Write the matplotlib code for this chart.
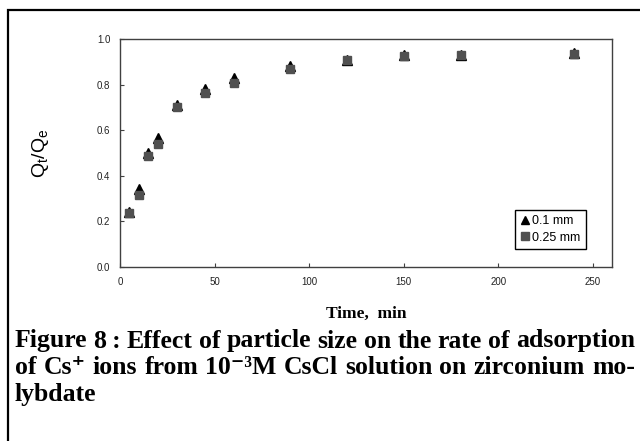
import numpy as np
import matplotlib.pyplot as plt
from matplotlib.patches import Rectangle

# data
time = [5, 10, 15, 20, 30, 45, 60, 90, 120, 150, 180, 240]
q_01 = [0.24, 0.34, 0.50, 0.565, 0.71, 0.78, 0.83, 0.88, 0.91, 0.93, 0.93, 0.94]
q_025 = [0.238, 0.316, 0.487, 0.538, 0.703, 0.765, 0.806, 0.867, 0.906, 0.925, 0.93, 0.935]
labels = ['0.1 mm', '0.25 mm']
xticks = [0, 50, 100, 150, 200, 250]
yticks = [0.0, 0.2, 0.4, 0.6, 0.8, 1.0]

caption = [
    ['Figure', '8\u2009:', 'Effect', 'of', 'particle', 'size', 'on', 'the', 'rate', 'of', 'adsorption'],
    ['of', 'Cs\u207a', 'ions', 'from', '10\u207b\u00b3M', 'CsCl', 'solution', 'on', 'zirconium', 'mo-'],
    ['lybdate'],
]

fig = plt.figure(figsize=(6.4, 4.41), dpi=100)
ax = fig.add_axes([120/640, 1-267/441, (612-120)/640, (267-39)/441])

ax.plot(time, q_01, ls='none', marker='^', ms=7, color='black', mec='black', label=labels[0])
ax.plot(time, q_025, ls='none', marker='s', ms=6, color='#505050', mec='#505050', label=labels[1])

ax.set_xlim(0, 260)
ax.set_ylim(0, 1.0)
ax.set_xticks(xticks)
ax.set_yticks(yticks)
ax.set_yticklabels(['%.1f' % v for v in yticks])
ax.tick_params(direction='in', length=3, width=0.8, color='#404040', labelsize=7,
               pad=7, labelcolor='#222222')
for lab in ax.get_xticklabels() + ax.get_yticklabels():
    lab.set_family('Liberation Sans')
for s in ax.spines.values():
    s.set_color('#404040')
    s.set_linewidth(1.0)

ax.set_xlabel('Time,  min', family='Liberation Serif', fontweight='bold', fontsize=12.5, labelpad=14)
ax.set_ylabel('Q$_\\mathregular{t}$/Q$_\\mathregular{e}$', family='Liberation Sans', fontsize=14, labelpad=33)

leg = ax.legend(loc='lower right', bbox_to_anchor=(0.96, 0.05), handlelength=0.6, handletextpad=0.3,
                borderpad=0.45, labelspacing=0.35, fancybox=False, framealpha=1,
                prop={'family': 'Liberation Sans', 'size': 9}, markerscale=0.9)
leg.get_frame().set_edgecolor('black')
leg.get_frame().set_linewidth(1.0)

# outer frame of the figure panel
fig.patches.append(Rectangle((8/640, -0.2), 1.2, 1.2 - 10/441, transform=fig.transFigure,
                             fill=False, ec='black', lw=1.6, clip_on=False))

# justified caption, drawn word by word
fig.canvas.draw()
r = fig.canvas.get_renderer()
x0, x1 = 15, 635
ys = [341, 368, 394]
fp = dict(family=['Liberation Serif', 'DejaVu Serif'], fontweight='bold', fontsize=18.5, va='center')
for i, words in enumerate(caption):
    texts = [fig.text(0, 1 - ys[i]/441, w, **fp) for w in words]
    widths = [t.get_window_extent(r).width for t in texts]
    if len(words) > 1 and i < len(caption) - 1:
        gap = max(2, (x1 - x0 - sum(widths)) / (len(words) - 1))
    else:
        gap = 4
    x = x0
    for t, w in zip(texts, widths):
        t.set_x(x/640)
        x += w + gap

fig.savefig('out.png', dpi=100)
